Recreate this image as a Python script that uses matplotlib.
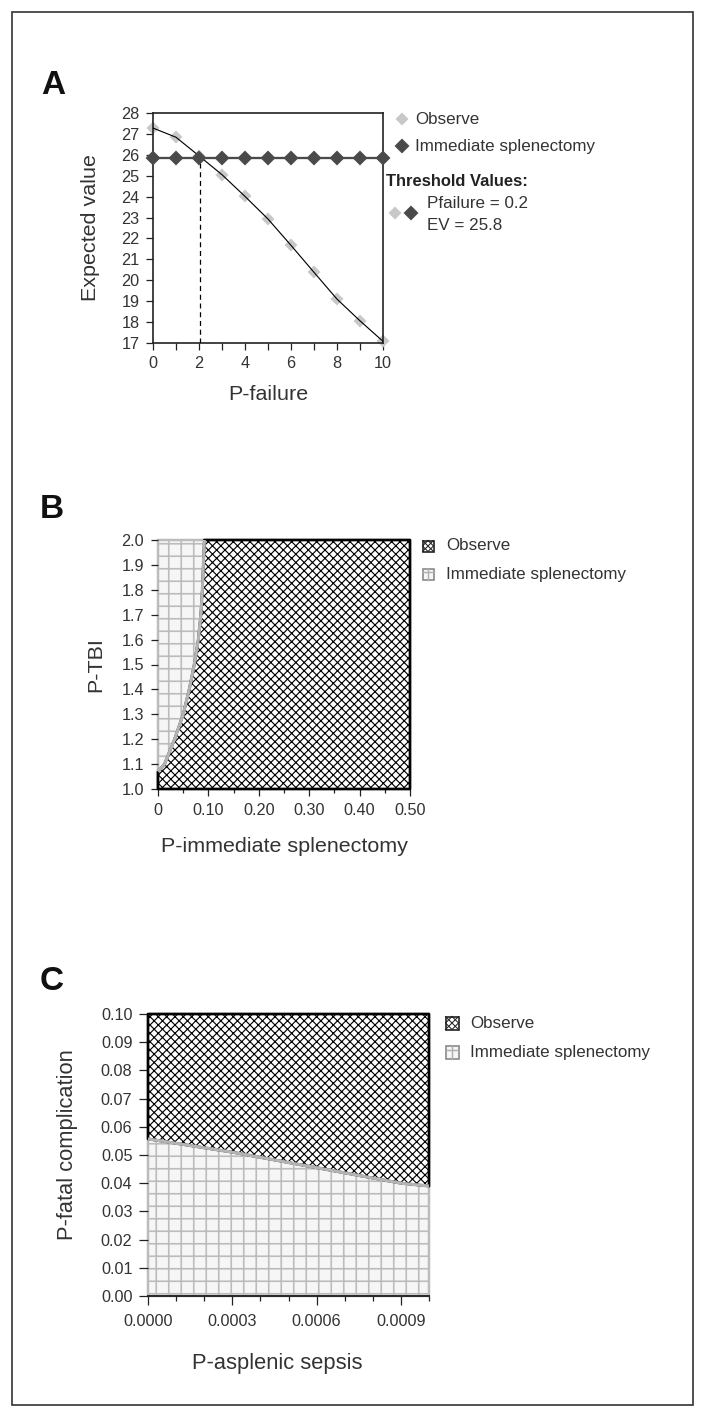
import numpy as np
import matplotlib
matplotlib.use("Agg")
import matplotlib.pyplot as plt
from matplotlib.lines import Line2D
from matplotlib.patches import Rectangle

# ---------------- data ----------------
# Panel A
p_failure = [0, 1, 2, 3, 4, 5, 6, 7, 8, 9, 10]
ev_observe = [27.28, 26.84, 25.95, 25.05, 24.01, 22.93, 21.67, 20.38, 19.10, 18.06, 17.08]
ev_splenectomy = [25.85, 25.85, 25.85, 25.85, 25.85, 25.85, 25.85, 25.85, 25.85, 25.85, 25.85]
threshold_x = 2.05
threshold_ev = 25.85
a_xticks = [0, 2, 4, 6, 8, 10]
a_yticks = [17, 18, 19, 20, 21, 22, 23, 24, 25, 26, 27, 28]

# Panel B (threshold curve between strategies)
p_tbi = [1.0, 1.07, 1.1, 1.2, 1.3, 1.4, 1.5, 1.6, 1.7, 1.8, 1.9, 2.0]
p_imm_threshold = [0.0, 0.0, 0.013, 0.033, 0.050, 0.062, 0.072, 0.080, 0.085, 0.088, 0.090, 0.092]
b_xticks = [0, 0.10, 0.20, 0.30, 0.40, 0.50]
b_xticklabels = ["0", "0.10", "0.20", "0.30", "0.40", "0.50"]
b_yticks = [1.0, 1.1, 1.2, 1.3, 1.4, 1.5, 1.6, 1.7, 1.8, 1.9, 2.0]

# Panel C
p_sepsis = [0.0, 0.0003, 0.0006, 0.0009, 0.001]
p_fatal_threshold = [0.0557, 0.0510, 0.0455, 0.0400, 0.0390]
c_xticks = [0.0, 0.0003, 0.0006, 0.0009]
c_xticklabels = ["0.0000", "0.0003", "0.0006", "0.0009"]
c_yticks = [0.00, 0.01, 0.02, 0.03, 0.04, 0.05, 0.06, 0.07, 0.08, 0.09, 0.10]

# ---------------- style ----------------
W, H, DPI = 706, 1417, 150
plt.rcParams["font.family"] = ["Liberation Sans", "DejaVu Sans"]
plt.rcParams["hatch.linewidth"] = 0.6
TXT = "#333333"
LIGHT_FACE = "#f6f6f6"
GRID_COL = "#bcbcbc"
BOUND_COL = "#b4b4b4"
CROSS = "xxxxxx"
GRID = "++"

fig = plt.figure(figsize=(W / DPI, H / DPI), dpi=DPI)


def fx(x):
    return x / W


def fy(y):
    return 1 - y / H


def add_axes_px(x0, y0, x1, y1):
    return fig.add_axes([fx(x0), fy(y1), (x1 - x0) / W, (y1 - y0) / H])


def style_ticks(ax, major_len, minor_len):
    ax.tick_params(which="major", direction="out", length=major_len, width=0.6,
                   color="#222222", labelcolor=TXT, labelsize=7.8, pad=3.2)
    ax.tick_params(which="minor", direction="out", length=minor_len, width=0.6,
                   color="#222222")


def set_hlw(coll, lw):
    if hasattr(coll, "set_hatch_linewidth"):
        coll.set_hatch_linewidth(lw)


def fig_line(xs, ys, **kw):
    fig.add_artist(Line2D([fx(v) for v in xs], [fy(v) for v in ys],
                          transform=fig.transFigure, **kw))


# outer frame
fig.add_artist(Rectangle((fx(12), fy(1405)), (693 - 12) / W, (1405 - 12) / H,
                         transform=fig.transFigure, fill=False, lw=0.8, ec="#333333"))

# panel letters
for letter, (lx, ly) in zip(["A", "B", "C"], [(53, 86), (52, 510), (52, 982)]):
    fig.text(fx(lx), fy(ly), letter, fontsize=16, fontweight="bold",
             ha="center", va="center", color="#111111")

# ================= Panel A =================
axA = add_axes_px(153, 113, 383, 343)
axA.plot(p_failure, ev_observe, linestyle="none", marker="D", markersize=3.4,
         color="#c8c8c8", zorder=2, clip_on=False)
axA.plot(p_failure, ev_observe, color="black", lw=0.55, zorder=3)
axA.plot(p_failure, ev_splenectomy, color="#4a4a4a", lw=1.1, marker="D",
         markersize=4.0, zorder=4, clip_on=False)
axA.plot([threshold_x, threshold_x], [17, threshold_ev], color="black", lw=0.6,
         linestyle=(0, (4, 3)), zorder=3)
axA.set_xlim(0, 10)
axA.set_ylim(17, 28)
axA.set_xticks(a_xticks)
axA.set_xticks(p_failure, minor=True)
axA.set_yticks(a_yticks)
style_ticks(axA, 3.2, 3.2)
for s in axA.spines.values():
    s.set_linewidth(0.8)
    s.set_color("#222222")
axA.set_xlabel("P-failure", fontsize=10.3, color=TXT)
axA.xaxis.set_label_coords(0.5, (343 - 394) / 230)
axA.xaxis.label.set_va("center")
axA.set_ylabel("Expected value", fontsize=10.3, color=TXT)
axA.yaxis.set_label_coords((91 - 153) / 230, 0.5)
axA.yaxis.label.set_va("center")

# Panel A legend
fig.add_artist(Line2D([fx(402)], [fy(119)], transform=fig.transFigure, marker="D",
                      markersize=3.4, color="#c8c8c8", linestyle="none"))
fig.text(fx(415), fy(119), "Observe", fontsize=8.2, color=TXT, va="center", ha="left")
fig.add_artist(Line2D([fx(402)], [fy(146)], transform=fig.transFigure, marker="D",
                      markersize=4.0, color="#4a4a4a", linestyle="none"))
fig.text(fx(415), fy(146), "Immediate splenectomy", fontsize=8.2, color=TXT,
         va="center", ha="left")
fig.text(fx(386), fy(181), "Threshold Values:", fontsize=7.9, fontweight="bold",
         color="#222222", va="center", ha="left")
fig.add_artist(Line2D([fx(395)], [fy(213)], transform=fig.transFigure, marker="D",
                      markersize=3.4, color="#c8c8c8", linestyle="none"))
fig.add_artist(Line2D([fx(411)], [fy(213)], transform=fig.transFigure, marker="D",
                      markersize=4.0, color="#4a4a4a", linestyle="none"))
fig.text(fx(427), fy(203), "Pfailure = 0.2", fontsize=8.2, color=TXT, va="center", ha="left")
fig.text(fx(427), fy(225), "EV = 25.8", fontsize=8.2, color=TXT, va="center", ha="left")


def observe_icon(cx, cy, s):
    h = s / 2
    fig.add_artist(Rectangle((fx(cx - h), fy(cy + h)), s / W, s / H,
                             transform=fig.transFigure, facecolor="white",
                             edgecolor="#222222", lw=0.8))
    fig_line([cx - h, cx + h], [cy - h, cy + h], color="#222222", lw=0.5)
    fig_line([cx - h, cx + h], [cy + h, cy - h], color="#222222", lw=0.5)
    fig_line([cx, cx + h, cx, cx - h, cx], [cy - h, cy, cy + h, cy, cy - h],
             color="#222222", lw=0.5)


def spleen_icon(cx, cy, s):
    h = s / 2
    fig.add_artist(Rectangle((fx(cx - h), fy(cy + h)), s / W, s / H,
                             transform=fig.transFigure, facecolor=LIGHT_FACE,
                             edgecolor="#8a8a8a", lw=0.8))
    fig_line([cx, cx], [cy - h, cy + h], color="#b0b0b0", lw=0.7)
    fig_line([cx - h, cx + h], [cy - h * 0.35, cy - h * 0.35], color="#b0b0b0", lw=0.7)


# ================= Panel B =================
axB = add_axes_px(158, 540, 410, 789)
splB = axB.fill_betweenx(p_tbi, 0, p_imm_threshold, facecolor=LIGHT_FACE,
                         edgecolor=GRID_COL, hatch=GRID, lw=1.2, clip_on=False, zorder=1)
set_hlw(splB, 0.8)
obsB = axB.fill_betweenx(p_tbi, p_imm_threshold, 0.5, facecolor="white",
                         edgecolor="black", hatch=CROSS, lw=1.3, clip_on=False, zorder=2)
set_hlw(obsB, 0.55)
axB.plot(p_imm_threshold[1:], p_tbi[1:], color=BOUND_COL, lw=1.5, zorder=3,
         solid_capstyle="butt", clip_on=False)
axB.set_xlim(0, 0.5)
axB.set_ylim(1.0, 2.0)
for s in axB.spines.values():
    s.set_visible(False)
axB.set_xticks(b_xticks)
axB.set_xticklabels(b_xticklabels)
axB.set_xticks([0.05, 0.15, 0.25, 0.35, 0.45], minor=True)
axB.set_yticks(b_yticks)
axB.set_yticklabels([f"{v:.1f}" for v in b_yticks])
style_ticks(axB, 3.4, 2.0)
axB.set_xlabel("P-immediate splenectomy", fontsize=10.3, color=TXT)
axB.xaxis.set_label_coords(0.5, (789 - 846) / 249)
axB.xaxis.label.set_va("center")
axB.set_ylabel("P-TBI", fontsize=10.3, color=TXT)
axB.yaxis.set_label_coords((96 - 158) / 252, 0.5)
axB.yaxis.label.set_va("center")

observe_icon(428, 546, 11)
fig.text(fx(446), fy(546), "Observe", fontsize=8.2, color=TXT, va="center", ha="left")
spleen_icon(428, 574, 11)
fig.text(fx(446), fy(574), "Immediate splenectomy", fontsize=8.2, color=TXT,
         va="center", ha="left")

# ================= Panel C =================
axC = add_axes_px(148, 1014, 429, 1296)
splC = axC.fill_between(p_sepsis, 0, p_fatal_threshold, facecolor=LIGHT_FACE,
                        edgecolor=GRID_COL, hatch=GRID, lw=1.2, clip_on=False, zorder=1)
set_hlw(splC, 0.8)
obsC = axC.fill_between(p_sepsis, p_fatal_threshold, 0.1, facecolor="white",
                        edgecolor="black", hatch=CROSS, lw=1.3, clip_on=False, zorder=2)
set_hlw(obsC, 0.55)
axC.plot(p_sepsis, p_fatal_threshold, color=BOUND_COL, lw=1.5, zorder=3,
         solid_capstyle="butt", clip_on=False)
axC.set_xlim(0, 0.001)
axC.set_ylim(0, 0.1)
for name, s in axC.spines.items():
    s.set_visible(name == "bottom")
axC.spines["bottom"].set_linewidth(0.9)
axC.spines["bottom"].set_color("#222222")
axC.spines["bottom"].set_zorder(4)
axC.set_xticks(c_xticks)
axC.set_xticklabels(c_xticklabels)
axC.set_xticks([0.0001, 0.0002, 0.0004, 0.0005, 0.0007, 0.0008, 0.001], minor=True)
axC.set_yticks(c_yticks)
axC.set_yticklabels([f"{v:.2f}" for v in c_yticks])
style_ticks(axC, 4.3, 2.4)
axC.tick_params(axis="x", which="major", pad=4.3)
axC.set_xlabel("P-asplenic sepsis", fontsize=10.5, color=TXT)
axC.xaxis.set_label_coords((277 - 148) / 281, (1296 - 1363) / 282)
axC.xaxis.label.set_va("center")
axC.set_ylabel("P-fatal complication", fontsize=10.5, color=TXT)
axC.yaxis.set_label_coords((67 - 148) / 281, (1296 - 1145) / 282)
axC.yaxis.label.set_va("center")

observe_icon(452, 1023, 13)
fig.text(fx(470), fy(1023), "Observe", fontsize=8.2, color=TXT, va="center", ha="left")
spleen_icon(452, 1052, 13)
fig.text(fx(470), fy(1052), "Immediate splenectomy", fontsize=8.2, color=TXT,
         va="center", ha="left")

fig.savefig("out.png", dpi=DPI)
